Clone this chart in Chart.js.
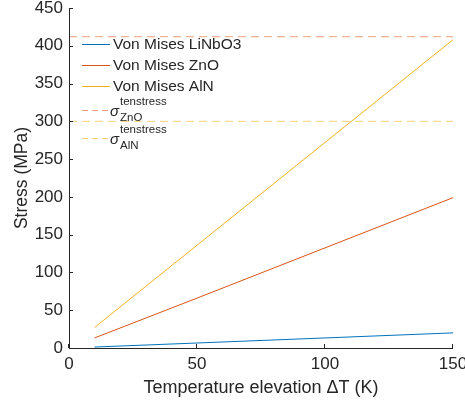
<!DOCTYPE html>
<html lang="en">
<head>
  <meta charset="UTF-8">
  <title>Stress vs temperature elevation</title>
  <script src="https://cdn.jsdelivr.net/npm/chart.js"></script>
  <style>
    html, body { margin: 0; padding: 0; background: #fff; }
    #wrap { width: 465px; height: 403px; }
  </style>
</head>
<body>
  <div id="wrap"><canvas id="chart"></canvas></div>
  <script>
    // data
    const deltaT = [10, 50, 100, 150];
    const vmLiNbO3 = [1.3, 6.6, 13.3, 20];
    const vmZnO = [13.3, 66, 132.5, 199];
    const vmAlN = [27.2, 136, 272, 408];
    const limitX = [0, 150];
    const sigmaZnO = 412;
    const sigmaAlN = 300;
    const xTicks = [0, 50, 100, 150];
    const yTicks = [0, 50, 100, 150, 200, 250, 300, 350, 400, 450];

    const ink = '#262626';
    const font = 'Liberation Sans, Arial, sans-serif';
    const cLi = '#0072BD', cZn = '#D95319', cAl = '#EDB120';
    const cZnLim = 'rgba(217,83,25,0.55)', cAlLim = 'rgba(237,177,32,0.6)';

    const pts = (xs, ys) => xs.map((x, i) => ({ x: x, y: ys[i] }));

    // legend drawn by hand: chart.js legend can't do sub/superscripts
    const legendRows = [
      { label: 'Von Mises LiNbO3', color: cLi, dash: [], y: 44 },
      { label: 'Von Mises ZnO', color: cZn, dash: [], y: 65 },
      { label: 'Von Mises AlN', color: cAl, dash: [], y: 86 },
      { sup: 'tenstress', sub: 'ZnO', color: cZnLim, dash: [6, 4], y: 110 },
      { sup: 'tenstress', sub: 'AlN', color: cAlLim, dash: [6, 4], y: 138 }
    ];

    const matlabAxes = {
      id: 'matlabAxes',
      afterDraw(chart) {
        const ctx = chart.ctx;
        const xs = chart.scales.x, ys = chart.scales.y;
        const a = chart.chartArea;
        ctx.save();
        ctx.lineWidth = 1;
        ctx.strokeStyle = ink;
        ctx.beginPath();
        ctx.moveTo(a.left + 0.5, a.top);
        ctx.lineTo(a.left + 0.5, a.bottom + 0.5);
        ctx.lineTo(a.right, a.bottom + 0.5);
        // inward ticks
        xTicks.forEach(v => {
          const px = Math.round(xs.getPixelForValue(v)) - 0.5;
          ctx.moveTo(px, a.bottom);
          ctx.lineTo(px, a.bottom - 4);
        });
        yTicks.forEach(v => {
          const py = Math.round(ys.getPixelForValue(v)) + 0.5;
          ctx.moveTo(a.left, py);
          ctx.lineTo(a.left + 4, py);
        });
        ctx.stroke();

        // legend
        legendRows.forEach(r => {
          ctx.beginPath();
          ctx.strokeStyle = r.color;
          ctx.setLineDash(r.dash);
          ctx.moveTo(82, r.y + 0.5);
          ctx.lineTo(110, r.y + 0.5);
          ctx.stroke();
          ctx.setLineDash([]);
          ctx.fillStyle = ink;
          ctx.textBaseline = 'middle';
          ctx.textAlign = 'left';
          if (r.label) {
            ctx.font = '15.5px ' + font;
            ctx.fillText(r.label, 113, r.y + 1);
          } else {
            ctx.font = 'italic 15px ' + font;
            ctx.fillText('σ', 110, r.y + 2);
            ctx.font = '11.5px ' + font;
            ctx.fillText(r.sup, 120, r.y - 8);
            ctx.fillText(r.sub, 120, r.y + 8);
          }
        });
        ctx.restore();
      }
    };

    new Chart(document.getElementById('chart'), {
      type: 'scatter',
      data: {
        datasets: [
          { data: pts(deltaT, vmLiNbO3), borderColor: cLi, borderWidth: 1, showLine: true, pointRadius: 0 },
          { data: pts(deltaT, vmZnO), borderColor: cZn, borderWidth: 1, showLine: true, pointRadius: 0 },
          { data: pts(deltaT, vmAlN), borderColor: cAl, borderWidth: 1, showLine: true, pointRadius: 0 },
          { data: pts(limitX, [sigmaZnO, sigmaZnO]), borderColor: cZnLim, borderWidth: 1, borderDash: [8, 5], showLine: true, pointRadius: 0 },
          { data: pts(limitX, [sigmaAlN, sigmaAlN]), borderColor: cAlLim, borderWidth: 1, borderDash: [8, 5], showLine: true, pointRadius: 0 }
        ]
      },
      options: {
        responsive: true,
        maintainAspectRatio: false,
        animation: false,
        layout: { padding: { left: 0, right: 12, top: 8, bottom: 0 } },
        plugins: { legend: { display: false }, tooltip: { enabled: false } },
        scales: {
          x: {
            type: 'linear', min: 0, max: 150,
            afterBuildTicks: s => { s.ticks = xTicks.map(v => ({ value: v })); },
            afterFit: s => { s.height = 55; s.paddingLeft = 0; s.paddingRight = 0; },
            grid: { display: false, drawTicks: false },
            border: { display: false },
            ticks: { color: ink, font: { family: font, size: 17 }, padding: 6, maxRotation: 0 },
            title: { display: true, text: 'Temperature elevation ΔT (K)', color: ink, font: { family: font, size: 18 }, padding: { top: 2 } }
          },
          y: {
            type: 'linear', min: 0, max: 450,
            afterBuildTicks: s => { s.ticks = yTicks.map(v => ({ value: v })); },
            afterFit: s => { s.width = 69; s.paddingTop = 0; s.paddingBottom = 0; },
            grid: { display: false, drawTicks: false },
            border: { display: false },
            ticks: { color: ink, font: { family: font, size: 17 }, padding: 6 },
            title: { display: true, text: 'Stress (MPa)', color: ink, font: { family: font, size: 17.5 }, padding: { top: 12, bottom: 0 } }
          }
        }
      },
      plugins: [matlabAxes]
    });
  </script>
</body>
</html>
